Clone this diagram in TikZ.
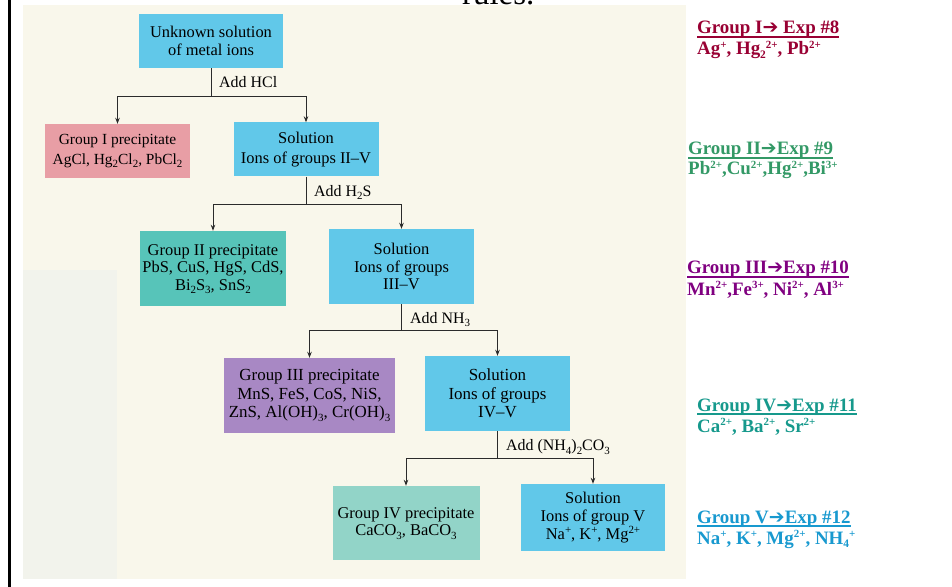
\documentclass[tikz,border=0pt]{standalone}
\usepackage{fontspec}
\setmainfont{Liberation Serif}
\newfontfamily\rfont{Liberation Serif}
\newfontfamily\dvfont{DejaVu Sans}
\usetikzlibrary{arrows.meta}
\definecolor{bgcream}{HTML}{F9F7EB}
\definecolor{bggrey}{HTML}{F2F3EC}
\definecolor{cyanb}{HTML}{61C8E9}
\definecolor{pinkb}{HTML}{E89EA5}
\definecolor{tealb}{HTML}{57C4B9}
\definecolor{purpb}{HTML}{A888C4}
\definecolor{paleb}{HTML}{92D4C8}
\definecolor{gone}{HTML}{990033}
\definecolor{gtwo}{HTML}{339966}
\definecolor{gthree}{HTML}{800080}
\definecolor{gfour}{HTML}{16998C}
\definecolor{gfive}{HTML}{1899CF}
\definecolor{linec}{HTML}{2B2B2B}
\newcommand\myul[1]{\setbox0=\hbox{#1}\leavevmode\rlap{\rule[-3.6pt]{\wd0}{1.8pt}}\box0}
\newcommand\harr{{\dvfont\bfseries\symbol{"2794}}}
% chemical sub/superscripts in the boxes
\newcommand\lo[1]{\raisebox{-3.3pt}[0pt][0pt]{\fontsize{11}{11}\selectfont#1}}
\newcommand\hi[1]{\raisebox{6.2pt}[0pt][0pt]{\fontsize{11}{11}\selectfont#1}}
% sub/superscripts in the notes
\newcommand\nlo[1]{\raisebox{-4pt}[0pt][0pt]{\fontsize{11.5}{11.5}\selectfont#1}}
\newcommand\nhi[1]{\raisebox{7pt}[0pt][0pt]{\fontsize{11}{11}\selectfont#1}}
\begin{document}
\begin{tikzpicture}[x=1bp,y=-1bp,
  box/.style={inner sep=0pt, align=center, text=black},
  lbl/.style={anchor=west, inner sep=0pt, text=black,
    font=\fontsize{16}{18}\selectfont},
  conn/.style={draw=linec, line width=0.9bp},
  arr/.style={conn, -{Stealth[length=6bp,width=4.5bp]}},
  rt/.style={anchor=base west, inner sep=0pt,
    font=\rfont\bfseries\fontsize{19}{22}\selectfont}]
\useasboundingbox (0,0) rectangle (952,587);
% page background
\fill[bgcream] (23,5) rectangle (686,579);
\fill[bggrey] (23,270) rectangle (117,579);
\fill[black] (7.5,0) rectangle (11,587);
\node[anchor=base west, inner sep=0pt, font=\rfont\fontsize{33}{36}\selectfont] (top) at (462,5) {rules.};
% boxes
\node[box, fill=cyanb, minimum width=144bp, minimum height=54bp, font=\fontsize{16.5}{18}\selectfont] (n1) at (211,41) {Unknown solution\\of metal ions};
\node[box, fill=pinkb, minimum width=145bp, minimum height=54bp, font=\fontsize{15.5}{20.5}\selectfont] (n2) at (117.5,151) {Group I precipitate\\AgCl, Hg\lo{2}Cl\lo{2}, PbCl\lo{2}};
\node[box, fill=cyanb, minimum width=145bp, minimum height=54bp, font=\fontsize{16.5}{20.5}\selectfont] (n3) at (306,149.5) {Solution\\Ions of groups II--V};
\node[box, fill=tealb, minimum width=146bp, minimum height=75bp, font=\fontsize{16.5}{17.5}\selectfont] (n4) at (213,268.5) {Group II precipitate\\PbS, CuS, HgS, CdS,\\Bi\lo{2}S\lo{3}, SnS\lo{2}};
\node[box, fill=cyanb, minimum width=145bp, minimum height=75bp, font=\fontsize{16.5}{17.5}\selectfont] (n5) at (401.5,266.5) {Solution\\Ions of groups\\III--V};
\node[box, fill=purpb, minimum width=171bp, minimum height=75bp, font=\fontsize{17}{18.5}\selectfont] (n6) at (309.5,395.5) {Group III precipitate\\MnS, FeS, CoS, NiS,\\ZnS, Al(OH)\lo{3}, Cr(OH)\lo{3}};
\node[box, fill=cyanb, minimum width=145bp, minimum height=75bp, font=\fontsize{17}{18.5}\selectfont] (n7) at (497.5,393.5) {Solution\\Ions of groups\\IV--V};
\node[box, fill=paleb, minimum width=147bp, minimum height=74bp, font=\fontsize{16.5}{17.5}\selectfont] (n8) at (406,523) {Group IV precipitate\\CaCO\lo{3}, BaCO\lo{3}};
\node[box, fill=cyanb, minimum width=144bp, minimum height=67bp, font=\fontsize{16.5}{18.5}\selectfont] (n9) at (593,517.5) {Solution\\Ions of group V\\Na\hi{+}, K\hi{+}, Mg\hi{2+}};
% connectors
\coordinate (j1) at (211,96);
\draw[conn] (n1.south) -- (j1);
\draw[arr] (j1) -| (n2.north);
\draw[arr] (j1) -| (n3.north);
\coordinate (j2) at (306,204);
\draw[conn] (n3.south) -- (j2);
\draw[arr] (j2) -| (n4.north);
\draw[arr] (j2) -| (n5.north);
\coordinate (j3) at (401.5,330);
\draw[conn] (n5.south) -- (j3);
\draw[arr] (j3) -| (n6.north);
\draw[arr] (j3) -| (n7.north);
\coordinate (j4) at (497.5,458);
\draw[conn] (n7.south) -- (j4);
\draw[arr] (j4) -| (n8.north);
\draw[arr] (j4) -| (n9.north);
% reagent labels
\node[lbl] (a1) at (219,82) {Add HCl};
\node[lbl] (a2) at (314,191) {Add H\lo{2}S};
\node[lbl] (a3) at (410,318) {Add NH\lo{3}};
\node[lbl] (a4) at (506,447) {Add (NH\lo{4})\lo{2}CO\lo{3}};
% right-hand notes
\node[rt, text=gone] (h1) at (697,34) {\myul{Group I\harr{} Exp \#8}};
\node[rt, text=gone] (l1) at (697,55) {Ag\nhi{+}, Hg\nlo{2}\nhi{2+}, Pb\nhi{2+}};
\node[rt, text=gtwo] (h2) at (688,155) {\myul{Group II\harr{}Exp \#9}};
\node[rt, text=gtwo] (l2) at (688,175) {Pb\nhi{2+},Cu\nhi{2+},Hg\nhi{2+},Bi\nhi{3+}};
\node[rt, text=gthree] (h3) at (687,274) {\myul{Group III\harr{}Exp \#10}};
\node[rt, text=gthree] (l3) at (687,295) {Mn\nhi{2+},Fe\nhi{3+}, Ni\nhi{2+}, Al\nhi{3+}};
\node[rt, text=gfour] (h4) at (697,411) {\myul{Group IV\harr{}Exp \#11}};
\node[rt, text=gfour] (l4) at (697,432) {Ca\nhi{2+}, Ba\nhi{2+}, Sr\nhi{2+}};
\node[rt, text=gfive] (h5) at (697,523) {\myul{Group V\harr{}Exp \#12}};
\node[rt, text=gfive] (l5) at (697,544) {Na\nhi{+}, K\nhi{+}, Mg\nhi{2+}, NH\nlo{4}\nhi{+}};
\end{tikzpicture}
\end{document}
